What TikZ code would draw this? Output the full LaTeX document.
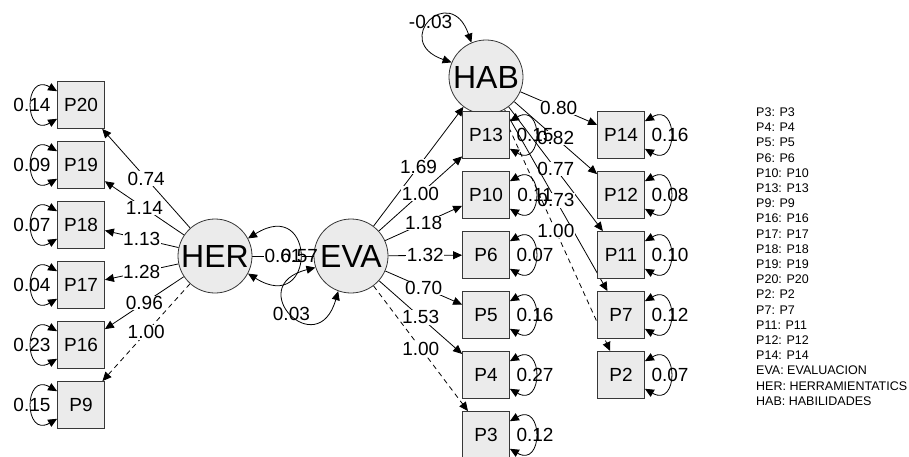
\documentclass[tikz,border=0pt]{standalone}
\usepackage{fontspec}
\setmainfont{Liberation Sans}
\usetikzlibrary{arrows.meta}
\pgfdeclarelayer{background}
\pgfsetlayers{background,main}
\definecolor{boxgray}{RGB}{235,235,235}
\definecolor{framegray}{RGB}{55,55,55}

\begin{document}
\begin{tikzpicture}[x=1pt,y=1pt,
    manifest/.style={draw=framegray,fill=boxgray,line width=0.8pt,minimum size=47pt,inner sep=0pt,font=\fontsize{19}{21}\selectfont},
    latent/.style={circle,draw=framegray,fill=boxgray,line width=0.8pt,minimum size=74pt,inner sep=0pt,font=\fontsize{32}{34}\selectfont},
    loadline/.style={-{Triangle[length=9pt,width=8pt]},line width=0.8pt},
    fixedline/.style={loadline,dash pattern=on 5pt off 4pt},
    varloop/.style={{Triangle[length=9pt,width=8pt]}-{Triangle[length=9pt,width=8pt]},line width=0.8pt},
    coef/.style={fill=white,inner sep=0.5pt,font=\fontsize{19}{21}\selectfont},
    vlabel/.style={inner sep=0pt,font=\fontsize{19}{21}\selectfont},
    legendtext/.style={inner sep=0pt,font=\fontsize{12.5}{15}\selectfont}]

    \useasboundingbox (0,0) rectangle (909,-457);

    % Latent variables
    \node[latent] (HER) at (215,-256) {HER};
    \node[latent] (EVA) at (351,-256) {EVA};
    \node[latent] (HAB) at (486,-77) {HAB};

    % Items of HER
    \node[manifest] (P20) at (81,-105) {P20};
    \node[manifest] (P19) at (81,-165) {P19};
    \node[manifest] (P18) at (81,-225) {P18};
    \node[manifest] (P17) at (81,-285) {P17};
    \node[manifest] (P16) at (81,-345) {P16};
    \node[manifest] (P9) at (81,-405) {P9};

    % Items of EVA
    \node[manifest] (P13) at (486,-135) {P13};
    \node[manifest] (P10) at (486,-195) {P10};
    \node[manifest] (P6) at (486,-255) {P6};
    \node[manifest] (P5) at (486,-315) {P5};
    \node[manifest] (P4) at (486,-375) {P4};
    \node[manifest] (P3) at (486,-435) {P3};

    % Items of HAB
    \node[manifest] (P14) at (621,-135) {P14};
    \node[manifest] (P12) at (621,-195) {P12};
    \node[manifest] (P11) at (621,-255) {P11};
    \node[manifest] (P7) at (621,-315) {P7};
    \node[manifest] (P2) at (621,-375) {P2};

    % Loadings (behind the boxes)
    \begin{pgfonlayer}{background}
        \draw[loadline] (HER) -- node[coef]{0.74} (P20);
        \draw[loadline] (HER) -- node[coef]{1.14} (P19);
        \draw[loadline] (HER) -- node[coef]{1.13} (P18);
        \draw[loadline] (HER) -- node[coef]{1.28} (P17);
        \draw[loadline] (HER) -- node[coef]{0.96} (P16);
        \draw[fixedline] (HER) -- node[coef]{1.00} (P9);

        \draw[line width=0.8pt] (HER) -- node[coef]{0.61} (EVA);

        \draw[loadline] (EVA) -- node[coef]{1.69} (HAB);
        \draw[loadline] (EVA) -- node[coef]{1.00} (P13);
        \draw[loadline] (EVA) -- node[coef]{1.18} (P10);
        \draw[loadline] (EVA) -- node[coef]{1.32} (P6);
        \draw[loadline] (EVA) -- node[coef]{0.70} (P5);
        \draw[loadline] (EVA) -- node[coef]{1.53} (P4);
        \draw[fixedline] (EVA) -- node[coef]{1.00} (P3);

        \draw[loadline] (HAB) -- node[coef]{0.80} (P14);
        \draw[loadline] (HAB) -- node[coef]{0.82} (P12);
        \draw[loadline] (HAB) -- node[coef]{0.77} (P11);
        \draw[loadline] (HAB) -- node[coef]{0.73} (P7);
        \draw[fixedline] (HAB) -- node[coef]{1.00} (P2);
    \end{pgfonlayer}

    % Variances of the latent variables
    \draw[varloop] (HER.28) to[out=32,in=-32,looseness=5.9] node[vlabel]{0.57} (HER.-28);
    \draw[varloop] (EVA.198) to[out=194,in=254,looseness=5.9] node[vlabel]{0.03} (EVA.250);
    \draw[varloop] (HAB.157) to[out=161,in=109,looseness=5.9] node[vlabel]{-0.03} (HAB.113);

    % Residual variances
    \foreach \n/\v in {P20/0.14,P19/0.09,P18/0.07,P17/0.04,P16/0.23,P9/0.15}
        \draw[varloop] (\n.150) to[out=150,in=210,looseness=3.6] node[vlabel]{\v} (\n.210);
    \foreach \n/\v in {P13/0.15,P10/0.11,P6/0.07,P5/0.16,P4/0.27,P3/0.12,P14/0.16,P12/0.08,P11/0.10,P7/0.12,P2/0.07}
        \draw[varloop] (\n.30) to[out=30,in=-30,looseness=3.6] node[vlabel]{\v} (\n.-30);

    % Legend
    \foreach \txt [count=\i from 0] in {P3: P3,P4: P4,P5: P5,P6: P6,P10: P10,P13: P13,P9: P9,P16: P16,P17: P17,P18: P18,P19: P19,P20: P20,P2: P2,P7: P7,P11: P11,P12: P12,P14: P14,EVA: EVALUACION,HER: HERRAMIENTATICS,HAB: HABILIDADES}
        \node[legendtext,anchor=base west] (leg\i) at (756,{-116.5-15.2*\i}) {\txt};
\end{tikzpicture}
\end{document}
